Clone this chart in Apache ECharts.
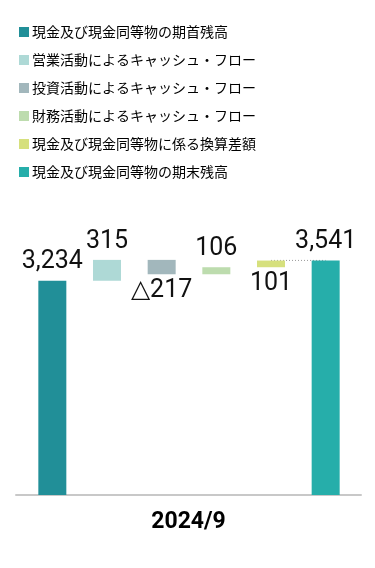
<!DOCTYPE html>
<html><head><meta charset="utf-8">
<script src="https://cdn.jsdelivr.net/npm/echarts@6/dist/echarts.min.js"></script>
<style>html,body{margin:0;padding:0;background:#fff}#c{width:375px;height:568px}</style>
</head><body><div id="c"></div>
<script>
var seriesNames = ['現金及び現金同等物の期首残高','営業活動によるキャッシュ・フロー','投資活動によるキャッシュ・フロー','財務活動によるキャッシュ・フロー','現金及び現金同等物に係る換算差額','現金及び現金同等物の期末残高'];
var colors = ['#218f98','#aed9d6','#a2b7bc','#bddcae','#d6e07d','#26aeaa'];
var startValue = 3234;
var changes = [315, -217, 106, 101];
var endValue = 3541;
var periodLabel = ['2024/9'];
var valueLabels = ['3,234','315','△217','106','101','3,541'];

var cats = seriesNames.map(function(_, i){ return 'c' + i; });
var bases = [0], heights = [startValue];
var level = startValue;
changes.forEach(function(d){
  if (d >= 0) { bases.push(level); heights.push(d); level += d; }
  else { level += d; bases.push(level); heights.push(-d); }
});
bases.push(0); heights.push(endValue);
var labelPos = ['top','top','bottom','top','bottom','top'];

var series = [{
  type: 'bar', stack: 'w', silent: true, barWidth: 28,
  itemStyle: { color: 'transparent' }, data: bases, z: 2
}];
seriesNames.forEach(function(n, i){
  var d = cats.map(function(_, j){ return j === i ? heights[j] : '-'; });
  series.push({
    name: n, type: 'bar', stack: 'w', barWidth: 28, z: 3,
    itemStyle: { color: colors[i] },
    label: { show: true, position: labelPos[i], distance: labelPos[i] === 'top' ? 6 : 4,
      formatter: function(){ return valueLabels[i]; },
      fontFamily: 'Roboto', fontSize: 25, color: '#111' },
    data: d
  });
});
series.push({
  type: 'line', silent: true, symbol: 'none', z: 1,
  lineStyle: { color: '#999', width: 1, type: [1, 2] },
  data: cats.map(function(_, j){ return j >= 4 ? endValue : '-'; })
});

var chart = echarts.init(document.getElementById('c'));
chart.setOption({
  animation: false,
  legend: {
    orient: 'vertical', left: 14, top: 20, icon: 'rect', itemWidth: 10, itemHeight: 10,
    itemGap: 14, data: seriesNames,
    textStyle: { fontFamily: 'Noto Sans CJK JP', fontSize: 14, color: '#000', padding: [0,0,0,-2] }
  },
  grid: [
    { left: 25, right: 22, top: 230, bottom: 73 },
    { left: 16, right: 14, top: 230, bottom: 73 }
  ],
  xAxis: [
    { type: 'category', gridIndex: 0, data: cats, axisLine: { show: false }, axisTick: { show: false }, axisLabel: { show: false } },
    { type: 'category', gridIndex: 1, data: periodLabel,
      axisLine: { show: true, lineStyle: { color: '#c8c8c8', width: 2 } }, axisTick: { show: false },
      axisLabel: { fontFamily: 'Roboto', fontWeight: 'bold', fontSize: 23, color: '#000', margin: 16 } }
  ],
  yAxis: [
    { type: 'value', gridIndex: 0, min: 0, max: 4000, show: false, splitLine: { show: false } },
    { type: 'value', gridIndex: 1, min: 0, max: 4000, show: false, splitLine: { show: false } }
  ],
  series: series
});
</script></body></html>
